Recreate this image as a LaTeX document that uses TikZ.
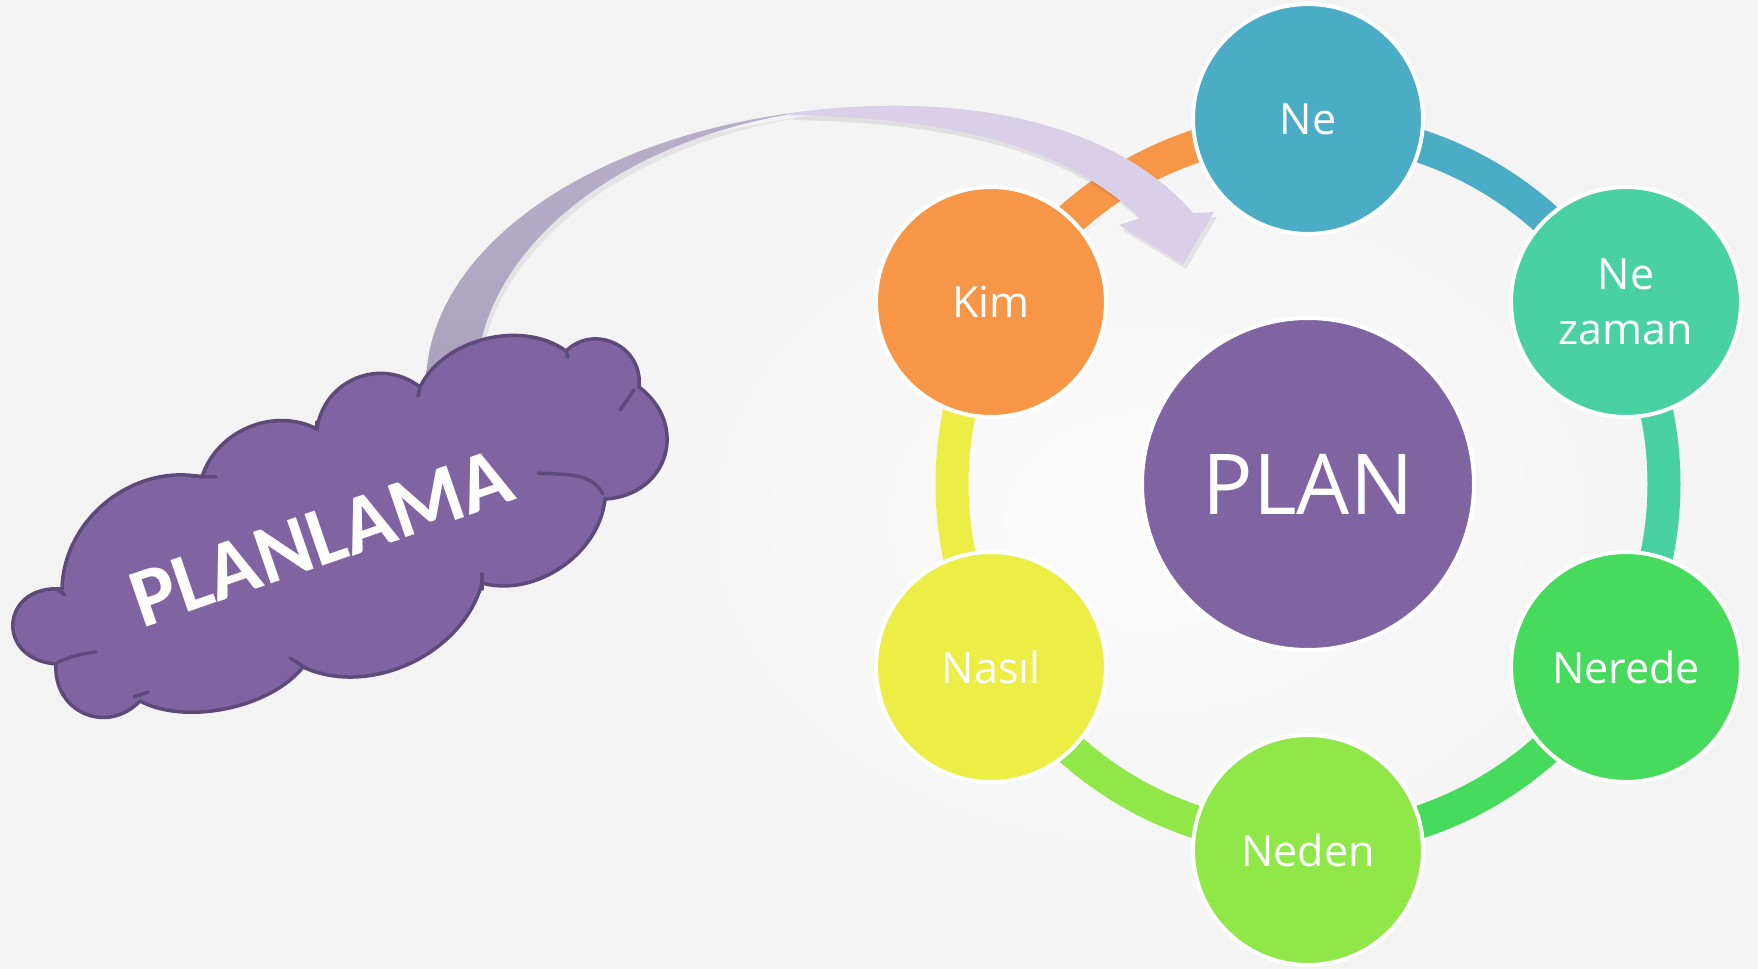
\documentclass[tikz,border=0pt]{standalone}
\usepackage{fontspec}
\setmainfont{Open Sans}
\newfontfamily\cloudfont{Carlito}
\usetikzlibrary{calc}
\pgfdeclarelayer{backdrop}
\pgfdeclarelayer{ring}
\pgfsetlayers{backdrop,ring,main}

\definecolor{bgc}{RGB}{243,243,243}
\definecolor{cne}{RGB}{75,172,198}
\definecolor{czaman}{RGB}{74,209,163}
\definecolor{cnerede}{RGB}{71,219,94}
\definecolor{cneden}{RGB}{143,232,72}
\definecolor{cnasil}{RGB}{236,237,69}
\definecolor{ckim}{RGB}{247,150,70}
\definecolor{cplan}{RGB}{128,100,162}
\definecolor{cloudline}{RGB}{94,74,122}
\definecolor{arrowbackA}{RGB}{170,162,188}
\definecolor{arrowbackB}{RGB}{184,174,202}
\definecolor{arrowfront}{RGB}{218,207,232}

\tikzset{
  bub/.style={circle, draw=white, line width=2pt, minimum size=115pt,
    inner sep=0pt, text=white, align=center,
    font=\fontsize{21.5}{27.5}\selectfont},
  hub/.style={bub, minimum size=166pt, font=\fontsize{42}{42}\selectfont},
  ringseg/.style={line width=16.5pt},
  cloudedge/.style={draw=cloudline, line width=1.75pt, line cap=round},
  % rising part of the curved arrow (behind)
  backshape/.style={insert path={
    (426,-390) -- (426,-385)
    arc[start angle=180, end angle=103.1, x radius=471, y radius=279]
    -- (790,-114)
    arc[start angle=104.7, end angle=180, x radius=421, y radius=280]
    -- (476,-390) -- cycle}},
  % falling part of the curved arrow with its head
  frontshape/.style={insert path={
    (790,-113)
    arc[start angle=103.1, end angle=90, x radius=471, y radius=279]
    .. controls (1020,-106) and (1130,-140) .. (1193,-213)
    -- (1214,-212) -- (1183,-264) -- (1119,-225) -- (1140,-218)
    .. controls (1070,-150) and (960,-118) .. (790,-115) -- cycle}}
}

\begin{document}
\begin{tikzpicture}[x=0.5pt,y=0.5pt]
\useasboundingbox (0,0) rectangle (1758,-969);

% backdrop
\begin{pgfonlayer}{backdrop}
  \fill[bgc] (0,0) rectangle (1758,-969);
  \shade[inner color=white, outer color=bgc, opacity=0.7]
    (1150,-520) ellipse [x radius=700, y radius=520];
\end{pgfonlayer}

% the six topics around the plan
\node[hub, fill=cplan] (plan) at (1308,-484) {PLAN};
\node[bub, fill=cne]     (ne)     at (1308,-119) {Ne};
\node[bub, fill=czaman]  (zaman)  at (1626,-302) {Ne\\zaman};
\node[bub, fill=cnerede] (nerede) at (1626,-667) {Nerede};
\node[bub, fill=cneden]  (neden)  at (1308,-850) {Neden};
\node[bub, fill=cnasil]  (nasil)  at (991,-667)  {Nasıl};
\node[bub, fill=ckim]    (kim)    at (991,-302)  {Kim};

% coloured ring segments, each from one topic to the next
\begin{pgfonlayer}{ring}
  \draw[ringseg, draw=cne]     ([shift={(90:356)}]plan.center)  arc[start angle=90,  end angle=30,  radius=356];
  \draw[ringseg, draw=czaman]  ([shift={(30:356)}]plan.center)  arc[start angle=30,  end angle=-30, radius=356];
  \draw[ringseg, draw=cnerede] ([shift={(-30:356)}]plan.center) arc[start angle=-30, end angle=-90, radius=356];
  \draw[ringseg, draw=cneden]  ([shift={(-90:356)}]plan.center) arc[start angle=-90, end angle=-150,radius=356];
  \draw[ringseg, draw=cnasil]  ([shift={(210:356)}]plan.center) arc[start angle=210, end angle=150, radius=356];
  \draw[ringseg, draw=ckim]    ([shift={(150:356)}]plan.center) arc[start angle=150, end angle=90,  radius=356];
\end{pgfonlayer}

% curved arrow from the cloud to the cycle, with a soft shadow
\fill[black, opacity=0.06, xshift=1.5pt, yshift=-2.5pt, backshape];
\shade[bottom color=arrowbackA, top color=arrowbackB, backshape];
\fill[black, opacity=0.08, xshift=1.5pt, yshift=-2.5pt, frontshape];
\fill[arrowfront, frontshape];

% cloud
\filldraw[fill=cplan, cloudedge]
  (62,-589) to[bend left=50] (202,-477)
  to[bend left=50] (317,-429)
  to[bend left=60, looseness=1.14] (420,-387)
  to[bend left=50, looseness=0.92] (566,-351)
  to[bend left=70, looseness=1.27] (639,-387)
  to[bend left=70, looseness=1.38] (605,-499)
  to[bend left=50, looseness=0.95] (482,-583)
  to[bend left=50, looseness=0.95] (303,-667)
  to[bend left=40, looseness=0.8] (140,-701)
  to[bend left=70, looseness=1.34] (56,-664)
  to[bend left=90, looseness=2.1] cycle;
% inner arcs of the cloud lobes
\draw[cloudedge] (538,-473) to[out=-5, in=120] (603,-494);
\draw[cloudedge] (620,-410) -- (634,-390);
\draw[cloudedge] (420,-387) -- (418,-396);
\draw[cloudedge] (482,-574) -- (482,-589);
\draw[cloudedge] (290,-658) -- (306,-668);
\draw[cloudedge] (134,-697) -- (148,-692);
\draw[cloudedge] (58,-662) to[bend left=8] (96,-652);
\draw[cloudedge] (58,-590) -- (65,-595);
\draw[cloudedge] (192,-476) -- (216,-477);
\draw[cloudedge] (317,-429) -- (317,-422);
\draw[cloudedge] (566,-351) -- (568,-357);

\node[rotate=19, text=white, inner sep=0pt,
      font=\cloudfont\bfseries\fontsize{42}{42}\selectfont]
  (planlama) at (321,-538) {PLANLAMA};
\end{tikzpicture}
\end{document}
